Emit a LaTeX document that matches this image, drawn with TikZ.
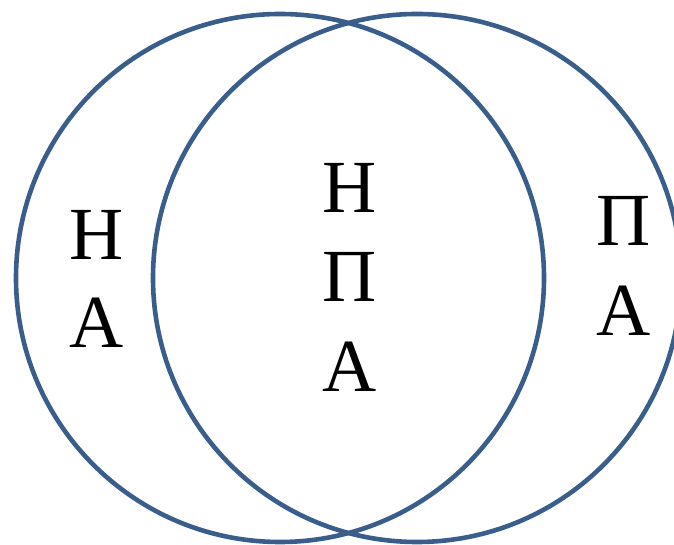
\documentclass[tikz,border=0pt]{standalone}
\usepackage{fontspec}
\setmainfont{Liberation Serif}
\definecolor{ringblue}{RGB}{58,94,140}
\begin{document}
\begin{tikzpicture}[x=1pt,y=1pt,
  ring/.style={draw=ringblue,line width=4.6pt},
  letter/.style={anchor=base,inner sep=0pt,font=\fontsize{75}{89}\selectfont}]
\useasboundingbox (0,0) rectangle (674,545);
\clip (0,0) rectangle (674,545);
\draw[ring] (280,267) circle[radius=264];
\draw[ring] (417,267) circle[radius=264];
% left region
\node[letter] (l1) at (97,285) {Н};
\node[letter] (l2) at (97,197) {А};
% centre region
\node[letter] (c1) at (350,332) {Н};
\node[letter] (c2) at (350,243) {П};
\node[letter] (c3) at (350,153) {А};
% right region
\node[letter] (r1) at (624,299) {П};
\node[letter] (r2) at (624,209) {А};
\end{tikzpicture}
\end{document}
